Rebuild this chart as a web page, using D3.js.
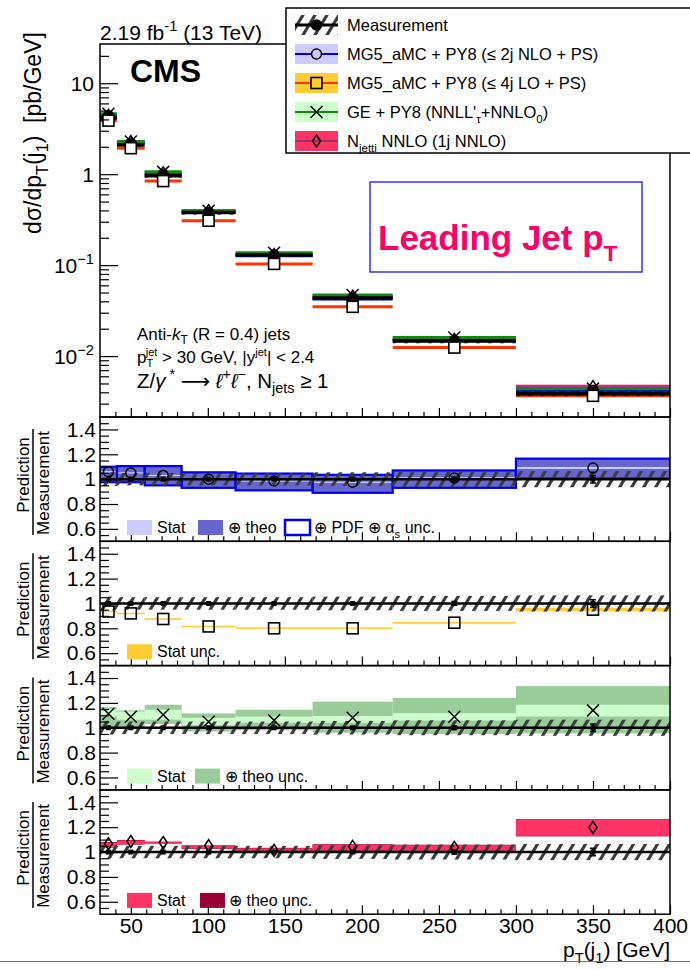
<!DOCTYPE html>
<html><head><meta charset="utf-8">
<script src="https://cdn.jsdelivr.net/npm/d3@7/dist/d3.min.js"></script>
<style>
html,body{margin:0;padding:0;background:#fff}
svg{display:block}
text{font-family:"Liberation Sans",Arial,Helvetica,sans-serif;fill:#000}
</style></head><body>
<svg id="chart" width="690" height="970"></svg>
<script>
// ---------------- data ----------------
const binEdges=[30,41,59,83,118,168,220,300,400];
const binCenters=[35.5,50,71,100.5,143,194,260,350];
const measured=[4.15,2.1,0.96,0.378,0.129,0.0435,0.0147,0.00385];
const measTotUnc=[0.055,0.05,0.05,0.05,0.05,0.055,0.06,0.065];
const measStatUnc=[0.004,0.004,0.004,0.005,0.006,0.008,0.015,0.03];

const nloRatio=[1.06,1.05,1.03,1.0,0.985,0.975,1.01,1.09];
const nloStatLo=[1.055,1.045,1.025,0.995,0.98,0.97,1.004,1.082];
const nloStatHi=[1.065,1.055,1.035,1.005,0.99,0.98,1.016,1.098];
const nloTheoLo=[0.978,0.978,0.953,0.933,0.913,0.893,0.933,1.008];
const nloTheoHi=[1.097,1.102,1.102,1.052,1.042,1.032,1.067,1.162];
const nloPdfLo=[0.975,0.975,0.95,0.93,0.91,0.89,0.93,1.005];
const nloPdfHi=[1.1,1.105,1.105,1.055,1.045,1.035,1.07,1.165];

const loRatio=[0.935,0.92,0.875,0.815,0.8,0.8,0.845,0.95];
const loStatLo=[0.932,0.917,0.872,0.812,0.797,0.797,0.841,0.937];
const loStatHi=[0.938,0.923,0.878,0.818,0.803,0.803,0.849,0.965];

const geRatio=[1.112,1.088,1.105,1.048,1.06,1.08,1.088,1.14];
const geStatLo=[1.09,1.065,1.065,1.02,1.04,1.04,1.058,1.09];
const geStatHi=[1.15,1.13,1.145,1.08,1.09,1.095,1.117,1.185];
const geTheoLo=[0.99,1.0,1.03,0.97,0.98,0.96,0.95,0.955];
const geTheoHi=[1.165,1.14,1.185,1.115,1.145,1.21,1.24,1.335];

const njRatio=[1.067,1.085,1.077,1.051,1.013,1.045,1.037,1.198];
const njStatLo=[1.04,1.064,1.072,1.03,1.01,1.013,1.01,1.13];
const njStatHi=[1.077,1.093,1.08,1.05,1.03,1.059,1.055,1.26];
const njTheoLo=[1.036,1.06,1.068,1.026,1.006,1.009,1.006,1.126];
const njTheoHi=[1.081,1.097,1.084,1.054,1.034,1.063,1.059,1.264];

const xTickValues=[50,100,150,200,250,300,350,400];
const mainYTicks=[0.01,0.1,1,10];
const mainYTickLabels=[["10","−2"],["10","−1"],["1",""],["10",""]];
const ratioYTicks=[0.6,0.8,1,1.2,1.4];
const ratioYTickLabels=["0.6","0.8","1","1.2","1.4"];

// ---------------- layout ----------------
const svg=d3.select('#chart');
const L=100,R=670;
const mainTop=44,mainBot=417;
const panelH=124.3;
const panelTops=[417,417+panelH,417+2*panelH,417+3*panelH];
const x=d3.scaleLinear().domain([30,400]).range([L,R]);
const yMain=d3.scaleLog().domain([0.00214,27]).range([mainBot,mainTop]);
const yR=panelTops.map(t=>d3.scaleLinear().domain([0.5,1.5]).range([t+panelH,t]));
const nBins=measured.length;
const bins=d3.range(nBins);

const defs=svg.append('defs');
const pat=defs.append('pattern').attr('id','hatch').attr('patternUnits','userSpaceOnUse')
  .attr('width',12).attr('height',20);
pat.append('path').attr('d','M-18,30L6,-10M-6,30L18,-10M6,30L30,-10')
  .attr('stroke','#3c3c3c').attr('stroke-width',3.2);
defs.append('clipPath').attr('id','clipMain').append('rect').attr('x',L).attr('y',mainTop).attr('width',R-L).attr('height',mainBot-mainTop);
panelTops.forEach((t,i)=>defs.append('clipPath').attr('id','clipR'+i).append('rect').attr('x',L).attr('y',t).attr('width',R-L).attr('height',panelH));

svg.append('rect').attr('width',690).attr('height',970).attr('fill','#fff');

// ---------------- helpers ----------------
function rich(g,xp,yp,parts,size,opt={}){
  const t=g.append('text').attr('x',xp).attr('y',yp).attr('font-size',size);
  if(opt.anchor) t.attr('text-anchor',opt.anchor);
  if(opt.weight) t.attr('font-weight',opt.weight);
  if(opt.fill) t.style('fill',opt.fill);
  if(opt.transform) t.attr('transform',opt.transform);
  let cur=0;
  parts.forEach(p=>{
    if(typeof p==='string') p={t:p};
    const s=t.append('tspan').text(p.t);
    const fs=(p.sub||p.sup)?size*(p.scale||0.7):size;
    const off=p.sub?size*(p.subOff||0.3):(p.sup?-size*0.42:0);
    s.attr('dy',off-cur); cur=off;
    s.attr('font-size',fs);
    if(p.dx) s.attr('dx',p.dx);
    if(p.it) s.attr('font-style','italic');
    if(p.font) s.attr('font-family',p.font);
  });
  return t;
}
function marker(g,type,cx,cy,fill){
  if(type==='dot') g.append('circle').attr('cx',cx).attr('cy',cy).attr('r',5.8).attr('fill','#000');
  if(type==='circle') g.append('circle').attr('cx',cx).attr('cy',cy).attr('r',5).attr('fill',fill||'none').attr('stroke','#000').attr('stroke-width',1.5);
  if(type==='square') g.append('rect').attr('x',cx-5.5).attr('y',cy-5.5).attr('width',11).attr('height',11).attr('fill',fill||'none').attr('stroke','#000').attr('stroke-width',1.6);
  if(type==='cross') g.append('path').attr('d',`M${cx-6},${cy-6}L${cx+6},${cy+6}M${cx-6},${cy+6}L${cx+6},${cy-6}`).attr('stroke','#000').attr('stroke-width',1.5).attr('fill','none');
  if(type==='diamond') g.append('path').attr('d',`M${cx},${cy-6}L${cx+4},${cy}L${cx},${cy+6}L${cx-4},${cy}Z`).attr('stroke','#000').attr('stroke-width',1.5).attr('fill',fill||'none');
}
function band(g,ys,lo,hi,fill,stroke,sw){
  g.selectAll(null).data(bins).enter().append('rect')
    .attr('x',i=>x(binEdges[i])).attr('width',i=>x(binEdges[i+1])-x(binEdges[i]))
    .attr('y',i=>ys(hi[i])).attr('height',i=>Math.max(0.6,ys(lo[i])-ys(hi[i])))
    .attr('fill',fill).attr('stroke',stroke||'none').attr('stroke-width',sw||0);
}
function xTicks(yBottom){
  const minor=d3.range(40,400,10).filter(v=>v%50!==0);
  svg.append('g').attr('transform',`translate(0,${yBottom})`)
    .call(d3.axisTop(x).tickValues(xTickValues).tickSize(9).tickFormat(''))
    .call(a=>a.select('.domain').remove()).selectAll('line').attr('stroke-width',1.2);
  svg.append('g').attr('transform',`translate(0,${yBottom})`)
    .call(d3.axisTop(x).tickValues(minor).tickSize(5).tickFormat(''))
    .call(a=>a.select('.domain').remove()).selectAll('line').attr('stroke-width',1.2);
}

// ---------------- main panel ----------------
const gm=svg.append('g').attr('clip-path','url(#clipMain)');
const preds=[
  {r:loRatio,lo:loStatLo,hi:loStatHi,line:'#ff3300',band:'#ffcc33'},
  {r:njRatio,lo:njStatLo,hi:njStatHi,line:'#aa3388',band:'#ff3366'},
  {r:nloRatio,lo:nloStatLo,hi:nloStatHi,line:'#0000ee',band:'#ccccff'},
  {r:geRatio,lo:geStatLo,hi:geStatHi,line:'#118811',band:'#ccffcc'}
];
preds.forEach(p=>{
  band(gm,yMain,bins.map(i=>p.lo[i]*measured[i]),bins.map(i=>p.hi[i]*measured[i]),p.band);
});
preds.forEach(p=>{
  gm.selectAll(null).data(bins).enter().append('line')
    .attr('x1',i=>x(binEdges[i])).attr('x2',i=>x(binEdges[i+1]))
    .attr('y1',i=>yMain(p.r[i]*measured[i])).attr('y2',i=>yMain(p.r[i]*measured[i]))
    .attr('stroke',p.line).attr('stroke-width',3);
});
band(gm,yMain,bins.map(i=>measured[i]*(1-measTotUnc[i])),bins.map(i=>measured[i]*(1+measTotUnc[i])),'url(#hatch)');
gm.selectAll(null).data(bins).enter().append('line')
  .attr('x1',i=>x(binEdges[i])).attr('x2',i=>x(binEdges[i+1]))
  .attr('y1',i=>yMain(measured[i])).attr('y2',i=>yMain(measured[i]))
  .attr('stroke','#000').attr('stroke-width',3.5);
bins.forEach(i=>{
  const cx=x(binCenters[i]);
  marker(gm,'circle',cx,yMain(nloRatio[i]*measured[i]));
  marker(gm,'cross',cx,yMain(geRatio[i]*measured[i]));
  marker(gm,'diamond',cx,yMain(njRatio[i]*measured[i]));
  marker(gm,'dot',cx,yMain(measured[i]));
  marker(gm,'square',cx,yMain(loRatio[i]*measured[i]),'#fff');
});
svg.append('g').attr('transform',`translate(${L},0)`)
  .call(d3.axisRight(yMain).tickValues(mainYTicks).tickSize(18).tickFormat(''))
  .call(a=>a.select('.domain').remove()).selectAll('line').attr('stroke-width',1.2);
const minorMain=[];
[0.001,0.01,0.1,1,10].forEach(d=>{for(let k=2;k<=9;k++){const v=d*k;if(v>0.00214&&v<27)minorMain.push(v);}});
svg.append('g').attr('transform',`translate(${L},0)`)
  .call(d3.axisRight(yMain).tickValues(minorMain).tickSize(9).tickFormat(''))
  .call(a=>a.select('.domain').remove()).selectAll('line').attr('stroke-width',1.2);
mainYTicks.forEach((v,i)=>{
  const lab=mainYTickLabels[i];
  const parts=[lab[0]];
  if(lab[1]) parts.push({t:lab[1],sup:true});
  rich(svg,94,yMain(v)+7.5,parts,21,{anchor:'end'});
});
xTicks(mainBot);
svg.append('rect').attr('x',L).attr('y',mainTop).attr('width',R-L).attr('height',mainBot-mainTop)
  .attr('fill','none').attr('stroke','#000').attr('stroke-width',1.5);

// main texts
rich(svg,100,40,['2.19 fb',{t:'-1',sup:true},' (13 TeV)'],21);
svg.append('text').attr('x',130).attr('y',82).attr('font-size',32).attr('font-weight','bold').text('CMS');
rich(svg,41,133,['dσ/dp',{t:'T',sub:true},'(j',{t:'1',sub:true},')\u00a0\u00a0[pb/GeV]'],23,{anchor:'middle',transform:'rotate(-90,41,133)'});
rich(svg,137,340,['Anti-',{t:'k',it:true},{t:'T',sub:true,subOff:0.25},' (R = 0.4) jets'],17);
rich(svg,137,363,['p',{t:'T',sub:true,subOff:0.22,scale:0.65},{t:'jet',sup:true,dx:-7.5,scale:0.65},' > 30 GeV, |y',{t:'jet',sup:true,scale:0.65},'| < 2.4'],17);
rich(svg,137,388,['Z/',{t:'γ',it:true},{t:'\u00a0*',sup:true},' ',{t:'⟶',font:'"DejaVu Sans",sans-serif'},' ',{t:'ℓ',it:true},{t:'+',sup:true},{t:'ℓ',it:true},{t:'−',sup:true},', N',{t:'jets',sub:true,subOff:0.25},' ≥ 1'],20.5);

// Leading jet box
svg.append('rect').attr('x',370).attr('y',182).attr('width',272).attr('height',90)
  .attr('fill','#fff').attr('stroke','#3333ff').attr('stroke-width',1.5);
rich(svg,378,250,['Leading Jet p',{t:'T',sub:true,scale:0.65}],35,{weight:'bold',fill:'#ff0066'});

// legend
const lg=svg.append('g');
lg.append('rect').attr('x',286).attr('y',8).attr('width',420).attr('height',145)
  .attr('fill','#fff').attr('stroke','#000').attr('stroke-width',1.5);
const legY=[25,54,83,112,141];
const sx=295,sw=43;
lg.append('rect').attr('x',sx).attr('y',legY[0]-10).attr('width',sw).attr('height',20).attr('fill','url(#hatch)');
lg.append('line').attr('x1',sx).attr('x2',sx+sw).attr('y1',legY[0]).attr('y2',legY[0]).attr('stroke','#000').attr('stroke-width',3);
marker(lg,'dot',sx+sw/2,legY[0]);
const legSym=[
  {band:'#ccccff',line:'#0000ee',m:'circle'},
  {band:'#ffcc33',line:'#ff3300',m:'square'},
  {band:'#ccffcc',line:'#118811',m:'cross'},
  {band:'#ff3366',line:'#993366',m:'diamond'}
];
legSym.forEach((s,k)=>{
  const cy=legY[k+1];
  lg.append('rect').attr('x',sx).attr('y',cy-10).attr('width',sw).attr('height',20).attr('fill',s.band);
  lg.append('line').attr('x1',sx).attr('x2',sx+sw).attr('y1',cy).attr('y2',cy).attr('stroke',s.line).attr('stroke-width',2);
  marker(lg,s.m,sx+sw/2,cy,s.m==='circle'||s.m==='square'?s.band:null);
});
const lfs=16.5,ltx=347;
rich(lg,ltx,legY[0]+6,['Measurement'],lfs);
rich(lg,ltx,legY[1]+6,['MG5_aMC + PY8 (≤ 2j NLO + PS)'],lfs);
rich(lg,ltx,legY[2]+6,['MG5_aMC + PY8 (≤ 4j LO + PS)'],lfs);
rich(lg,ltx,legY[3]+6,["GE + PY8 (NNLL'",{t:'τ',sub:true},'+NNLO',{t:'0',sub:true},')'],lfs);
rich(lg,ltx,legY[4]+6,['N',{t:'jetti',sub:true},' NNLO (1j NNLO)'],lfs);

// ---------------- ratio panels ----------------
const ratioSets=[
  {r:nloRatio,m:'circle',bands:[[nloTheoLo,nloTheoHi,'#6666cc'],[nloStatLo,nloStatHi,'#ccccff']],outline:[nloPdfLo,nloPdfHi,'#0000ee']},
  {r:loRatio,m:'square',bands:[[loStatLo,loStatHi,'#ffcc33']]},
  {r:geRatio,m:'cross',bands:[[geTheoLo,geTheoHi,'#99cc99'],[geStatLo,geStatHi,'#ccffcc']]},
  {r:njRatio,m:'diamond',bands:[[njTheoLo,njTheoHi,'#990033'],[njStatLo,njStatHi,'#ff3366']]}
];
const legends=[
  [{c:'#ccccff',t:['Stat'],x:127,tx:157},{c:'#6666cc',t:['⊕ theo'],x:198,tx:228},{c:'#fff',s:'#0000ee',t:['⊕ PDF ⊕ α',{t:'s',sub:true},' unc.'],x:285,tx:314}],
  [{c:'#ffcc33',t:['Stat unc.'],x:127,tx:157}],
  [{c:'#ccffcc',t:['Stat'],x:127,tx:157},{c:'#99cc99',t:['⊕ theo unc.'],x:195,tx:225}],
  [{c:'#ff3366',t:['Stat'],x:127,tx:157},{c:'#990033',t:['⊕ theo unc.'],x:200,tx:229}]
];
ratioSets.forEach((rs,pi)=>{
  const top=panelTops[pi],ys=yR[pi];
  const g=svg.append('g').attr('clip-path',`url(#clipR${pi})`);
  rs.bands.forEach(b=>band(g,ys,b[0],b[1],b[2]));
  if(rs.outline) band(g,ys,rs.outline[0],rs.outline[1],'none',rs.outline[2],2.2);
  if(pi===1){
    g.selectAll(null).data(bins).enter().append('line')
      .attr('x1',i=>x(binEdges[i])).attr('x2',i=>x(binEdges[i+1]))
      .attr('y1',i=>ys(rs.r[i])).attr('y2',i=>ys(rs.r[i]))
      .attr('stroke','#ffcc33').attr('stroke-width',1.5);
  }
  band(g,ys,bins.map(i=>1-measTotUnc[i]),bins.map(i=>1+measTotUnc[i]),'url(#hatch)');
  g.append('line').attr('x1',L).attr('x2',R).attr('y1',ys(1)).attr('y2',ys(1)).attr('stroke','#000').attr('stroke-width',2.5);
  bins.forEach(i=>{
    const cx=x(binCenters[i]);
    g.append('line').attr('x1',cx).attr('x2',cx).attr('y1',ys(1-measStatUnc[i])).attr('y2',ys(1+measStatUnc[i])).attr('stroke','#000').attr('stroke-width',2);
    [1-measStatUnc[i],1+measStatUnc[i]].forEach(v=>g.append('line').attr('x1',cx-3).attr('x2',cx+3).attr('y1',ys(v)).attr('y2',ys(v)).attr('stroke','#000').attr('stroke-width',1.5));
    g.append('rect').attr('x',cx-2.5).attr('y',ys(1)-2.5).attr('width',5).attr('height',5).attr('fill','#000');
  });
  bins.forEach(i=>marker(g,rs.m,x(binCenters[i]),ys(rs.r[i])));
  svg.append('g').attr('transform',`translate(${L},0)`)
    .call(d3.axisRight(ys).tickValues(ratioYTicks).tickSize(18).tickFormat(''))
    .call(a=>a.select('.domain').remove()).selectAll('line').attr('stroke-width',1.2);
  const minorR=d3.range(0.55,1.5,0.05).filter(v=>Math.abs(v*5-Math.round(v*5))>0.01);
  svg.append('g').attr('transform',`translate(${L},0)`)
    .call(d3.axisRight(ys).tickValues(minorR).tickSize(9).tickFormat(''))
    .call(a=>a.select('.domain').remove()).selectAll('line').attr('stroke-width',1.2);
  svg.append('g').attr('transform',`translate(${L},0)`)
    .call(d3.axisLeft(ys).tickValues(ratioYTicks).tickSize(0).tickPadding(4).tickFormat((d,k)=>ratioYTickLabels[k]))
    .call(a=>a.select('.domain').remove())
    .selectAll('text').attr('font-size',21).attr('font-family','"Liberation Sans",Arial,sans-serif');
  xTicks(top+panelH);
  svg.append('rect').attr('x',L).attr('y',top).attr('width',R-L).attr('height',panelH)
    .attr('fill','none').attr('stroke','#000').attr('stroke-width',1.5);
  const cy=top+58;
  rich(svg,29,cy,['Prediction'],17,{anchor:'middle',transform:`rotate(-90,29,${cy})`});
  rich(svg,49,cy+8,['Measurement'],17,{anchor:'middle',transform:`rotate(-90,49,${cy+8})`});
  svg.append('line').attr('x1',33).attr('x2',33).attr('y1',top+12).attr('y2',top+118).attr('stroke','#000').attr('stroke-width',1.5);
  legends[pi].forEach(e=>{
    svg.append('rect').attr('x',e.x).attr('y',top+103).attr('width',25).attr('height',15)
      .attr('fill',e.c).attr('stroke',e.s||'none').attr('stroke-width',e.s?2.5:0);
    rich(svg,e.tx,top+116,e.t,16);
  });
});

// x-axis labels & title
svg.append('g').attr('transform',`translate(0,${panelTops[3]+panelH})`)
  .call(d3.axisBottom(x).tickValues(xTickValues).tickSize(0).tickPadding(4))
  .call(a=>a.select('.domain').remove())
  .selectAll('text').attr('font-size',21).attr('font-family','"Liberation Sans",Arial,sans-serif');
rich(svg,670,957,['p',{t:'T',sub:true},'(j',{t:'1',sub:true},') [GeV]'],21,{anchor:'end'});
svg.append('line').attr('x1',0).attr('x2',690).attr('y1',961.5).attr('y2',961.5).attr('stroke','#4a7cc4').attr('stroke-width',1.2);
</script>
</body></html>
